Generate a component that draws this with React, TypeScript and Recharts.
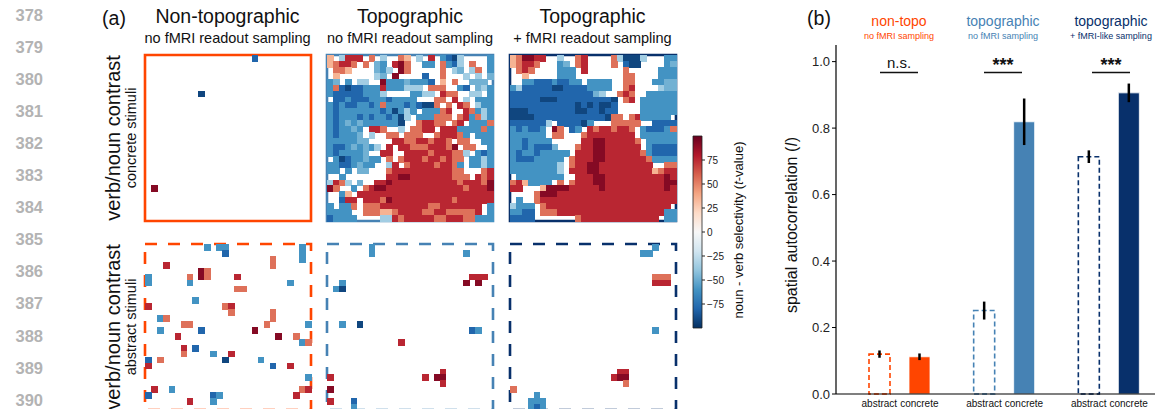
import React from 'react'
import {
  ScatterChart, Scatter, XAxis, YAxis, ReferenceArea,
  BarChart, Bar, Cell, ErrorBar,
} from 'recharts'

const FONT = "'Liberation Sans', Arial, Helvetica, sans-serif"
const N = 28

// value levels used in the cell maps (t-values)
const LEVELS: Record<string, number> = {
  a: -35, b: -48, c: -60, d: -80, e: -92,
  A: 35, B: 55, C: 76, D: 92,
}

// concrete stimuli, topographic (no fMRI sampling)
const topoConcreteRows = [
  'A.aCCC.B.a..BA.a.C.cdea....c',
  'ABCCB.B.bc.CDB..cc.Bcda.B..c',
  '.BBA....bca.DB.....B.ab.aB.c',
  '.A......ab.D....d..B...a.a.b',
  'cb.c.aa..Dcccbcccd.A.B..bbb.',
  'cBdeddcccCcccaaa.BBB..cd.bac',
  'cdddddccca....ccaa.CBB..aa.c',
  '.ddcdddcccdcccc...BB.C.a.ccc',
  'cdcddccdcBcccdcdeeB.B.CB.acc',
  'cdcccccccdcecac.cccBC..CBcac',
  'cdcccdcdccdcea.cccBBB.BCcBac',
  'cdcbcbcccccce..BCCBB.BC.cccB',
  'cdccbc.CCB..a.BBCC.CCCccccBc',
  'cdcccb.a..BB.BBB..BCCCBc.ccc',
  'cccccbb....CCBBCCBCCB.BB..cc',
  'cddcbcbca.C.CCBBBCCCBD.BB..c',
  'cdccccb..CC..CCCCBCCCBBa.cdc',
  '.cedccbcc.B.BCCCBCCBCBB.ccac',
  'ccddcbcc..aC.BCCCCBCCBc.ccac',
  'cc.c.bb...BCCCCCCCCCCBB...BC',
  '..c.......CCDDCCCCCCCBBB.CBC',
  'aCBa.b..CCDCCCCCCCCCCCBCCCBD',
  'DB..c.BCDDCCCCCCCCCCCCCBCCCD',
  '..cA.CCCCCCCCCCCCCCCCCCCCCCC',
  '..dCC.CCCBDCCCCCCCCCCBCCCCCC',
  'c.ccB.BBBCCCCCCCCBBCCCCCCC.c',
  'cccc..BBBAABCCCCBBCCBBBBBC.c',
  'dcccc....aaCBCCCCCBBCCCBBccc',
]

// concrete stimuli, topographic + fMRI readout sampling
const fmriConcreteRows = [
  'ABDDCC..a..BC....Baeeea...cc',
  'ABCCB...cb.BC....B.dee....cb',
  '.BCB....ccc.C......B.....ccc',
  '..A.....ccc........BB....ccc',
  '..ccdddcddcc.cccc..BB...ccbb',
  'cadddddeeddddcccc..BC....abb',
  'ddddddddddddddba..BCB..ccccc',
  'dddddeeeddddddddde.BC.ccccccc',
  'dddddddddddededeed....cccccc',
  'eeeddddddddeeddedd....cccccc',
  'eeeeddddddddddddeBB.BCccccc.',
  'dddddda.ddddec...BBBBB..ddddB',
  'cdcddc.DB.dc.CBCCBCCB.cdddcB',
  'cccccc.BB...BCCCCCCCC.cccccc',
  'ccdcccc.....CCDDCCCCCB.ccccc',
  'ccdcdddb...BCCDDCCCCCC.cdddd',
  'cdccdccccc.CCCDDCCCCCCBcdddd',
  'cdddccccc.BCCCDDCCCCCCCBcccc',
  'cccccccca.BCCDDCCCCCCCCC..BB',
  'cccccccca.CCCDDCCCCCCCCCABCC',
  '.cccccccc..CCCDDCCCCCCCCCCDC',
  'BCAcccc.B.BCCCDDCCCCCCCCCCDD',
  'CC...ADDDDCCCCCDCCCCCCCCCCDC',
  '....BDDDCCCCCCCCCCCCCCCCCCCC',
  '.c..BCCCCCCCCCCCCCCCCCCCCCCC',
  'accc.BCCCCCCCCCCCCCCCCCCCCC.',
  'ccdd.BBBCCCCCCCCCCCCCCCCCCcc',
  'dddd.......BCCCCCCCCCCCCC.cc',
]

// sparse maps: [column, row, level]
const nonTopoConcreteCells: [number, number, string][] = [
  [18, 0, 'd'], [9, 6, 'e'], [1, 22, 'D'],
]

const nonTopoAbstractCells: [number, number, string][] = [
  [10, 0, 'c'], [12, 0, 'c'], [13, 0, 'c'], [13, 1, 'd'], [26, 0, 'c'], [26, 1, 'c'], [26, 2, 'c'],
  [3, 3, 'C'], [21, 2, 'B'], [21, 3, 'B'], [9, 4, 'D'], [9, 5, 'D'], [10, 4, 'B'], [10, 5, 'B'],
  [0, 5, 'c'], [0, 6, 'c'], [7, 5, 'B'], [7, 6, 'c'], [15, 5, 'C'], [24, 6, 'c'], [15, 7, 'B'],
  [16, 7, 'B'], [8, 9, 'c'], [0, 10, 'C'], [13, 10, 'B'], [14, 10, 'C'], [14, 11, 'B'], [21, 11, 'B'],
  [21, 12, 'B'], [2, 12, 'c'], [3, 12, 'B'], [6, 13, 'B'], [7, 13, 'B'], [20, 13, 'B'], [27, 13, 'c'],
  [2, 14, 'c'], [9, 14, 'd'], [18, 14, 'D'], [5, 15, 'C'], [22, 15, 'D'], [25, 15, 'B'], [26, 16, 'c'],
  [27, 16, 'B'], [6, 17, 'C'], [6, 18, 'B'], [8, 17, 'd'], [11, 18, 'c'], [14, 18, 'C'], [0, 19, 'd'],
  [0, 20, 'C'], [2, 19, 'B'], [13, 19, 'e'], [19, 19, 'c'], [21, 20, 'd'], [24, 20, 'C'], [27, 22, 'c'],
  [1, 24, 'C'], [4, 24, 'c'], [26, 24, 'B'], [27, 24, 'C'], [0, 25, 'd'], [11, 25, 'd'], [12, 25, 'c'],
  [11, 26, 'c'], [25, 25, 'C'], [7, 26, 'C'],
]

const topoAbstractCells: [number, number, string][] = [
  [7, 0, 'c'], [7, 1, 'c'], [23, 1, 'c'], [24, 5, 'C'], [25, 5, 'C'], [26, 5, 'C'], [23, 6, 'D'],
  [25, 6, 'D'], [2, 6, 'c'], [1, 7, 'c'], [2, 7, 'e'], [2, 13, 'c'], [5, 13, 'e'], [24, 14, 'd'],
  [25, 14, 'c'], [12, 16, 'C'], [19, 21, 'C'], [18, 22, 'D'], [19, 22, 'D'], [16, 22, 'C'],
  [19, 23, 'C'], [0, 22, 'C'], [0, 24, 'D'], [0, 26, 'C'], [4, 26, 'd'], [4, 27, 'c'],
]

const fmriAbstractCells: [number, number, string][] = [
  [24, 0, 'c'], [22, 1, 'c'], [23, 1, 'c'], [24, 5, 'B'], [25, 5, 'B'], [26, 5, 'B'], [24, 6, 'C'],
  [25, 6, 'C'], [26, 6, 'C'], [24, 14, 'c'], [18, 21, 'C'], [19, 21, 'C'], [17, 22, 'C'], [18, 22, 'D'],
  [19, 22, 'D'], [19, 23, 'B'], [0, 24, 'B'], [4, 25, 'c'], [3, 26, 'c'], [4, 26, 'c'], [5, 26, 'c'],
  [3, 27, 'c'], [4, 27, 'd'], [5, 27, 'c'],
]

// colorbar
const colorbarTicks = [-75, -50, -25, 0, 25, 50, 75]
const colorbarData = [{ name: 'cb', range: [-100, 100] }]

// panel (b)
const groups = ['non-topo', 'topographic', 'topographic-fmri']
const abstractMeans = [0.12, 0.251, 0.714]
const abstractErrs = [0.011, 0.027, 0.019]
const concreteMeans = [0.112, 0.819, 0.906]
const concreteErrs = [0.01, 0.07, 0.028]
const groupColors = ['#ff4500', '#4682b4', '#08306b']
const yTicks = [0, 0.2, 0.4, 0.6, 0.8, 1.0]
const groupTitles = ['non-topo', 'topographic', 'topographic']
const groupSubtitles = ['no fMRI sampling', 'no fMRI sampling', '+ fMRI-like sampling']
const sigLabels = ['n.s.', '***', '***']

const RDBU_R = ['#053061', '#2166ac', '#4393c3', '#92c5de', '#d1e5f0', '#f7f7f7',
  '#fddbc7', '#f4a582', '#d6604d', '#b2182b', '#67001f']

function hexToRgb(h: string) {
  return [1, 3, 5].map(i => parseInt(h.slice(i, i + 2), 16))
}

function colorFor(v: number) {
  const t = Math.max(0, Math.min(1, (v + 100) / 200)) * 10
  const i = Math.min(9, Math.floor(t))
  const f = t - i
  const a = hexToRgb(RDBU_R[i]), b = hexToRgb(RDBU_R[i + 1])
  const c = a.map((x, k) => Math.round(x + (b[k] - x) * f))
  return `rgb(${c[0]},${c[1]},${c[2]})`
}

function fromRows(rows: string[]) {
  const pts: { x: number; y: number; v: number }[] = []
  rows.forEach((row, r) => {
    row.padEnd(N, '.').slice(0, N).split('').forEach((ch, c) => {
      if (LEVELS[ch] != null) pts.push({ x: c + 0.5, y: r + 0.5, v: LEVELS[ch] })
    })
  })
  return pts
}

function fromCells(cells: [number, number, string][]) {
  return cells.map(([c, r, ch]) => ({ x: c + 0.5, y: r + 0.5, v: LEVELS[ch] }))
}

const MAP = 166
const PAD = 3

function Heatmap({ points, left, top, color, dashed }: any) {
  const cs = MAP / N
  return (
    <div style={{ position: 'absolute', left: left - PAD, top: top - PAD }}>
      <ScatterChart width={MAP + 2 * PAD} height={MAP + 2 * PAD}
        margin={{ top: PAD, right: PAD, bottom: PAD, left: PAD }}>
        <XAxis type="number" dataKey="x" domain={[0, N]} hide />
        <YAxis type="number" dataKey="y" domain={[0, N]} reversed hide />
        <Scatter data={points} isAnimationActive={false}
          shape={(p: any) => (
            <rect x={p.cx - cs / 2} y={p.cy - cs / 2} width={cs + 0.8} height={cs + 0.8}
              fill={colorFor(p.payload.v)} shapeRendering="crispEdges" />
          )} />
        <ReferenceArea x1={0} x2={N} y1={0} y2={N} fill="none" fillOpacity={0}
          stroke={color} strokeWidth={2.6} strokeDasharray={dashed ? '12 11' : undefined} />
      </ScatterChart>
    </div>
  )
}

function GroupTick({ x, y }: any) {
  return (
    <g>
      <text x={x - 20} y={y + 9.5} textAnchor="middle" dominantBaseline="central"
        fontFamily={FONT} fontSize={10} fill="#111">abstract</text>
      <text x={x + 20} y={y + 9.5} textAnchor="middle" dominantBaseline="central"
        fontFamily={FONT} fontSize={10} fill="#111">concrete</text>
    </g>
  )
}

export default function App() {
  const mapX = [145, 327, 510]
  const mapY = [55, 244]
  const titleX = [227.5, 410, 592.5]
  const barData = groups.map((g, i) => ({
    group: g,
    abstract: abstractMeans[i], abstractErr: abstractErrs[i],
    concrete: concreteMeans[i], concreteErr: concreteErrs[i],
  }))
  const groupX = [899, 1003, 1111]

  return (
    <div style={{
      position: 'absolute', left: 0, top: 0, width: 1155, height: 409,
      overflow: 'hidden', background: '#fff', fontFamily: FONT,
    }}>
      {/* panel (a): cell maps */}
      <Heatmap points={fromCells(nonTopoConcreteCells)} left={mapX[0]} top={mapY[0]} color="#ff4500" />
      <Heatmap points={fromRows(topoConcreteRows)} left={mapX[1]} top={mapY[0]} color="#4682b4" />
      <Heatmap points={fromRows(fmriConcreteRows)} left={mapX[2]} top={mapY[0]} color="#08306b" />
      <Heatmap points={fromCells(nonTopoAbstractCells)} left={mapX[0]} top={mapY[1]} color="#ff4500" dashed />
      <Heatmap points={fromCells(topoAbstractCells)} left={mapX[1]} top={mapY[1]} color="#4682b4" dashed />
      <Heatmap points={fromCells(fmriAbstractCells)} left={mapX[2]} top={mapY[1]} color="#08306b" dashed />

      {/* colorbar */}
      <div style={{ position: 'absolute', left: 692, top: 135 }}>
        <BarChart width={42} height={194} data={colorbarData} barCategoryGap={0}
          margin={{ top: 1, right: 0, bottom: 1, left: 1 }}>
          <defs>
            <linearGradient id="cbGrad" x1="0" y1="1" x2="0" y2="0">
              {RDBU_R.map((c, i) => <stop key={i} offset={`${i * 10}%`} stopColor={c} />)}
            </linearGradient>
          </defs>
          <XAxis dataKey="name" hide />
          <YAxis orientation="right" width={32} domain={[-100, 100]} ticks={colorbarTicks}
            axisLine={false} tickSize={3} tickLine={{ stroke: '#222' }}
            tick={{ fontSize: 10, fill: '#222', fontFamily: FONT }}
            tickFormatter={(v: number) => (v < 0 ? `\u2212${Math.abs(v)}` : `${v}`)} />
          <Bar dataKey="range" fill="url(#cbGrad)" stroke="#222" strokeWidth={0.8}
            isAnimationActive={false} />
        </BarChart>
      </div>

      {/* panel (b): bar chart */}
      <div style={{ position: 'absolute', left: 796, top: 40 }}>
        <BarChart width={365} height={375} data={barData} barGap={19}
          margin={{ top: 5, right: 0, bottom: 0, left: 0 }}>
          <XAxis dataKey="group" height={21} padding={{ left: 11, right: 0 }}
            axisLine={{ stroke: '#000', strokeWidth: 1.2 }} tickLine={false}
            tickSize={0} tickMargin={0}
            tick={(p: any) => <GroupTick {...p} />} interval={0} />
          <YAxis width={40} domain={[0, 1.05]} ticks={yTicks} tickSize={4}
            axisLine={{ stroke: '#000', strokeWidth: 1.2 }} tickLine={{ stroke: '#000' }}
            tick={{ fontSize: 13, fill: '#222', fontFamily: FONT }}
            tickFormatter={(v: number) => v.toFixed(1)} />
          <Bar dataKey="abstract" barSize={21} isAnimationActive={false}>
            {groupColors.map((c, i) => (
              <Cell key={i} fill="#fff" stroke={c} strokeWidth={1.6} strokeDasharray="5 3" />
            ))}
            <ErrorBar dataKey="abstractErr" width={0} stroke="#000" strokeWidth={2.5} direction="y" />
          </Bar>
          <Bar dataKey="concrete" barSize={21} isAnimationActive={false}>
            {groupColors.map((c, i) => (
              <Cell key={i} fill={c} stroke="#fff" strokeWidth={0.8} />
            ))}
            <ErrorBar dataKey="concreteErr" width={0} stroke="#000" strokeWidth={2.5} direction="y" />
          </Bar>
        </BarChart>
      </div>

      {/* text layer */}
      <svg width={1155} height={409} style={{ position: 'absolute', left: 0, top: 0, pointerEvents: 'none' }}
        fontFamily={FONT}>
        {Array.from({ length: 13 }, (_, i) => (
          <text key={i} x={43} y={15 + 32.05 * i} textAnchor="end" dominantBaseline="central"
            fontSize={16.5} fontWeight="bold" fill="#b3b3b3">{378 + i}</text>
        ))}
        <text x={114} y={18} textAnchor="middle" dominantBaseline="central" fontSize={19.5} fill="#111">(a)</text>
        <text x={819} y={18} textAnchor="middle" dominantBaseline="central" fontSize={19.5} fill="#111">(b)</text>

        {['Non-topographic', 'Topographic', 'Topographic'].map((t, i) => (
          <text key={t + i} x={titleX[i]} y={16} textAnchor="middle" dominantBaseline="central"
            fontSize={19.5} fill="#111">{t}</text>
        ))}
        {['no fMRI readout sampling', 'no fMRI readout sampling', '+ fMRI readout sampling'].map((t, i) => (
          <text key={t + i} x={titleX[i]} y={38} textAnchor="middle" dominantBaseline="central"
            fontSize={14.5} fill="#111">{t}</text>
        ))}

        {[138, 327].map((cy, i) => (
          <g key={cy}>
            <text transform={`translate(113,${cy}) rotate(-90)`} textAnchor="middle" dominantBaseline="central"
              fontSize={20} fill="#111">verb/noun contrast</text>
            <text transform={`translate(131,${cy}) rotate(-90)`} textAnchor="middle" dominantBaseline="central"
              fontSize={14.5} fill="#111">{i === 0 ? 'concrete stimuli' : 'abstract stimuli'}</text>
          </g>
        ))}

        <text transform="translate(738,230) rotate(-90)" textAnchor="middle" dominantBaseline="central"
          fontSize={13} fill="#111">noun - verb selectivity (<tspan fontStyle="italic">t</tspan>-value)</text>

        <text transform="translate(791,225) rotate(-90)" textAnchor="middle" dominantBaseline="central"
          fontSize={16} fill="#111">spatial autocorrelation (<tspan fontStyle="italic">I</tspan>)</text>

        {groupX.map((cx, i) => (
          <g key={cx}>
            <text x={cx} y={21} textAnchor="middle" dominantBaseline="central" fontSize={14}
              fill={groupColors[i]}>{groupTitles[i]}</text>
            <text x={cx} y={36} textAnchor="middle" dominantBaseline="central" fontSize={9}
              fill={groupColors[i]}>{groupSubtitles[i]}</text>
            <text x={cx} y={i === 0 ? 62 : 65} textAnchor="middle" dominantBaseline="central"
              fontSize={i === 0 ? 15 : 18} fontWeight={i === 0 ? 'normal' : 'bold'} fill="#111">{sigLabels[i]}</text>
            <line x1={cx - 19} x2={cx + 19} y1={72.5} y2={72.5} stroke="#111" strokeWidth={1.5} />
          </g>
        ))}
      </svg>
    </div>
  )
}
